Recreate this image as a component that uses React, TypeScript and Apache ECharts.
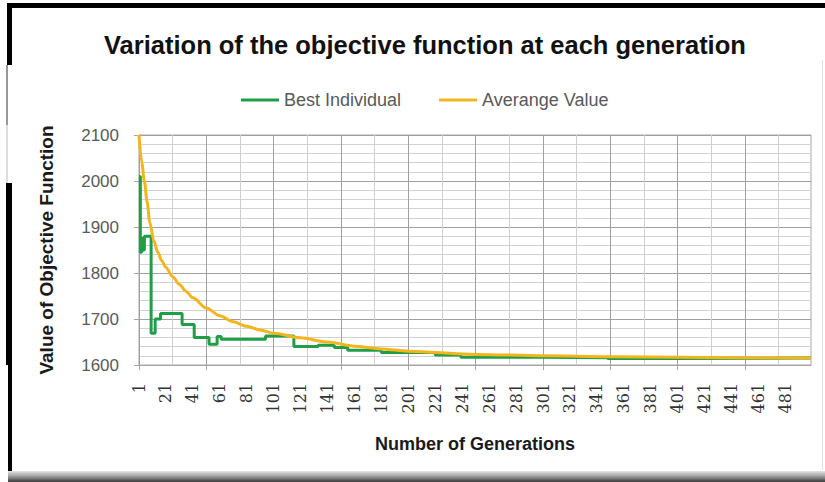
import React, { useEffect, useRef } from "react";
import * as echarts from "echarts";

const generations: string[] = Array.from({ length: 500 }, (_, i) => String(i + 1));

const bestGen = [1, 2, 3, 4, 5, 10, 13, 17, 33, 42, 53, 59, 62, 95, 116, 134, 146, 156, 181, 221, 240, 300, 349, 394, 500];
const bestVal = [2010, 1845, 1875, 1850, 1880, 1669, 1700, 1712, 1688, 1660, 1645, 1662, 1656, 1663, 1640, 1643, 1638, 1632, 1627, 1622, 1617, 1616, 1614, 1615, 1615];

const avgGen = [1, 3, 5, 7, 9, 12, 15, 18, 21, 26, 31, 36, 41, 51, 61, 71, 81, 91, 101, 121, 141, 161, 181, 201, 251, 301, 351, 401, 451, 500];
const avgVal = [2100, 2040, 2000, 1955, 1910, 1870, 1845, 1826, 1812, 1792, 1775, 1760, 1746, 1724, 1707, 1694, 1684, 1676, 1669, 1659, 1650, 1641, 1635, 1630, 1623, 1620, 1618, 1617, 1616, 1615];

const yTicks = { min: 1600, max: 2100, step: 100 };

export default function App() {
  const ref = useRef<HTMLDivElement>(null);
  useEffect(() => {
    if (!ref.current) return;
    const chart = echarts.init(ref.current, null, { renderer: "svg" });
    const bestData = bestGen.map((g, i) => [g - 1, bestVal[i]]);
    const avgData = avgGen.map((g, i) => [g - 1, avgVal[i]]);
    chart.setOption({
      animation: false,
      backgroundColor: "#ffffff",
      title: {
        text: "Variation of the objective function at each generation",
        left: 99,
        top: 27,
        textStyle: { fontFamily: "Liberation Sans", fontSize: 25.5, fontWeight: "bold", color: "#111" },
      },
      legend: {
        left: 236,
        top: 86,
        icon: "rect",
        itemWidth: 38,
        itemHeight: 3,
        itemGap: 38,
        textStyle: { fontFamily: "Liberation Sans", fontSize: 18, color: "#595959" },
        data: ["Best Individual", "Averange Value"],
      },
      grid: { left: 139, right: 14, top: 135, bottom: 117, show: true, borderColor: "#a6a6a6", borderWidth: 1 },
      xAxis: [
        {
          type: "category",
          data: generations,
          boundaryGap: false,
          name: "Number of Generations",
          nameLocation: "middle",
          nameGap: 70,
          nameTextStyle: { fontFamily: "Liberation Sans", fontSize: 18, fontWeight: "bold", color: "#1a1a1a" },
          axisLine: { show: true, lineStyle: { color: "#a6a6a6" } },
          axisTick: { show: true, interval: 49, length: 5, lineStyle: { color: "#a6a6a6" } },
          axisLabel: { interval: 19, rotate: 90, margin: 18, fontFamily: "DejaVu Serif", fontSize: 16, color: "#333" },
          splitLine: { show: true, interval: 49, lineStyle: { color: "#a0a0a0", width: 1 } },
          z: 2,
        },
        {
          type: "category",
          data: generations,
          boundaryGap: false,
          position: "top",
          axisLine: { show: false },
          axisTick: { show: false },
          axisLabel: { show: false },
          splitLine: { show: true, interval: (i: number) => i % 50 === 25, lineStyle: { color: "#cfcfcf", width: 1 } },
          z: 1,
        },
      ],
      yAxis: {
        type: "value",
        min: yTicks.min,
        max: yTicks.max,
        interval: yTicks.step,
        name: "Value of Objective Function",
        nameLocation: "middle",
        nameGap: 83,
        nameTextStyle: { fontFamily: "Liberation Sans", fontSize: 19, fontWeight: "bold", color: "#1a1a1a" },
        axisLine: { show: true, lineStyle: { color: "#a6a6a6" } },
        axisTick: { show: true, length: 5, lineStyle: { color: "#a6a6a6" } },
        axisLabel: { margin: 20, fontFamily: "Liberation Sans", fontSize: 17, color: "#595959", formatter: (v: number) => String(v) },
        splitLine: { show: true, lineStyle: { color: "#a0a0a0", width: 1 } },
        minorTick: { show: false, splitNumber: 5 },
        minorSplitLine: { show: true, lineStyle: { color: "#d2d2d2", width: 1 } },
      },
      series: [
        {
          name: "Best Individual",
          type: "line",
          xAxisIndex: 0,
          data: bestData,
          step: "end",
          symbol: "none",
          lineStyle: { color: "#1f9e48", width: 3 },
          itemStyle: { color: "#1f9e48" },
        },
        {
          name: "Averange Value",
          type: "line",
          xAxisIndex: 0,
          data: avgData,
          smooth: 0.3,
          smoothMonotone: "x",
          symbol: "none",
          lineStyle: { color: "#f2b51c", width: 3 },
          itemStyle: { color: "#f2b51c" },
        },
      ],
      graphic: [
        { type: "rect", shape: { x: 8, y: 3, width: 817, height: 5 }, style: { fill: "#000" }, z: 10 },
        { type: "rect", shape: { x: 7, y: 3, width: 5, height: 62 }, style: { fill: "#000" }, z: 10 },
        { type: "rect", shape: { x: 6, y: 65, width: 2, height: 60 }, style: { fill: "#999" }, z: 10 },
        { type: "rect", shape: { x: 6, y: 125, width: 2, height: 58 }, style: { fill: "#ddd" }, z: 10 },
        { type: "rect", shape: { x: 6, y: 183, width: 6, height: 182 }, style: { fill: "#000" }, z: 10 },
        { type: "rect", shape: { x: 8, y: 365, width: 4, height: 112 }, style: { fill: "#000" }, z: 10 },
        { type: "rect", shape: { x: 822, y: 60, width: 1, height: 410 }, style: { fill: "#e0e0e0" }, z: 10 },
        {
          type: "rect",
          shape: { x: 8, y: 471, width: 817, height: 11 },
          style: {
            fill: new echarts.graphic.LinearGradient(0, 0, 0, 1, [
              { offset: 0, color: "#e6e6e6" },
              { offset: 0.5, color: "#9a9a9a" },
              { offset: 1, color: "#3a3a3a" },
            ]),
          },
          z: 10,
        },
      ],
    });
    return () => chart.dispose();
  }, []);
  return <div ref={ref} style={{ position: "fixed", left: 0, top: 0, width: 825, height: 482, background: "#fff" }} />;
}
